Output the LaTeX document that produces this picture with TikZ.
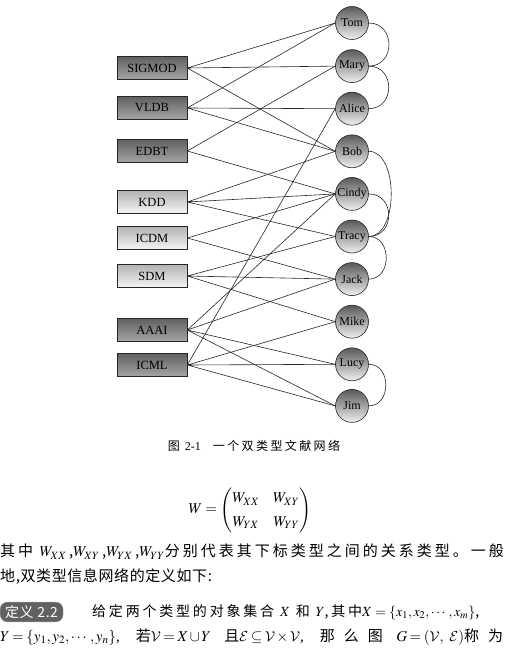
\documentclass[tikz,border=0pt]{standalone}
\usepackage{amsmath}
\usepackage{mathptmx}
\DeclareMathAlphabet{\mathcal}{OMS}{cmsy}{m}{n}
\usepackage{fontspec}
\setmainfont{Liberation Serif}
\newfontfamily\cjk[LetterSpace=4]{Noto Sans CJK SC}
\newfontfamily\cjkwide[LetterSpace=20]{Noto Sans CJK SC}
\newfontfamily\cjkwider[LetterSpace=60]{Noto Sans CJK SC}
\usetikzlibrary{positioning}

\begin{document}
\begin{tikzpicture}[
      x=1pt, y=-1pt,
      venue/.style={draw=black!85, line width=0.6pt, minimum width=70pt, minimum height=23pt,
                    inner sep=0pt, font=\fontsize{12.5}{12.5}\selectfont},
      dark/.style={venue, top color=black!62, bottom color=black!35},
      light/.style={venue, top color=black!30, bottom color=black!4},
      author/.style={circle, draw=black!85, line width=0.6pt, minimum size=33pt, inner sep=0pt,
                     top color=black!65, bottom color=black!6, font=\fontsize{12}{12}\selectfont},
      link/.style={line width=0.6pt, black!85},
      tie/.style={link, out=0, in=0},
      body/.style={anchor=west, inner sep=0pt, font=\fontsize{15}{18}\selectfont},
    ]
    \useasboundingbox (0,0) rectangle (507,658);
    % venues
    \node[dark] (sigmod) at (152,68) {SIGMOD};
    \node[dark] (vldb) at (152,108) {VLDB};
    \node[dark] (edbt) at (152,151) {EDBT};
    \node[light] (kdd) at (152,202) {KDD};
    \node[light] (icdm) at (152,238) {ICDM};
    \node[light] (sdm) at (152,276) {SDM};
    \node[dark] (aaai) at (152,330) {AAAI};
    \node[dark] (icml) at (152,365) {ICML};
    % authors
    \node[author] (tom) at (352,23) {Tom};
    \node[author, below=9.5pt of tom] (mary) {Mary};
    \node[author, below=9pt of mary] (alice) {Alice};
    \node[author, below=9pt of alice] (bob) {Bob};
    \node[author, below=9pt of bob] (cindy) {Cindy};
    \node[author, below=9pt of cindy] (tracy) {Tracy};
    \node[author, below=9pt of tracy] (jack) {Jack};
    \node[author, below=9pt of jack] (mike) {Mike};
    \node[author, below=9pt of mike] (lucy) {Lucy};
    \node[author, below=8pt of lucy] (jim) {Jim};
    % venue-author links
    \draw[link] (sigmod.east) -- (tom.west) (sigmod.east) -- (mary.west) (sigmod.east) -- (bob.west);
    \draw[link] (vldb.east) -- (tom.west) (vldb.east) -- (alice.west) (vldb.east) -- (bob.west);
    \draw[link] (edbt.east) -- (mary.west) (edbt.east) -- (cindy.west);
    \draw[link] (kdd.east) -- (bob.west) (kdd.east) -- (cindy.west) (kdd.east) -- (tracy.west);
    \draw[link] (icdm.east) -- (cindy.west) (icdm.east) -- (jack.west);
    \draw[link] (sdm.east) -- (tracy.west) (sdm.east) -- (jack.west) (sdm.east) -- (mike.west);
    \draw[link] (aaai.east) -- (cindy.west) (aaai.east) -- (jack.west)
                (aaai.east) -- (lucy.west) (aaai.east) -- (jim.west);
    \draw[link] (icml.east) -- (alice.west) (icml.east) -- (mike.west)
                (icml.east) -- (lucy.west) (icml.east) -- (jim.west);
    % author-author ties
    \draw[tie, looseness=1.6] (tom.east) to (mary.east);
    \draw[tie, looseness=1.6] (mary.east) to (alice.east);
    \draw[tie, looseness=0.9] (bob.east) to (tracy.east);
    \draw[tie, looseness=1.6] (cindy.east) to (tracy.east);
    \draw[tie, looseness=1.4] (tracy.east) to (jack.east);
    \draw[tie, looseness=1.4] (lucy.east) to (jim.east);
    % caption and text
    \node[inner sep=0pt, font=\fontsize{12}{12}\selectfont] (cap) at (254,446)
      {\cjkwide 图 {\rmfamily 2-1}\quad 一个双类型文献网络};
    \node[inner sep=0pt, font=\fontsize{15}{18}\selectfont] (eq) at (250,510)
      {\renewcommand{\arraystretch}{1.3}$W=\begin{pmatrix} W_{XX} & \ W_{XY}\\ W_{YX} & \ W_{YY}\end{pmatrix}$};
    \node[body] (l1) at (0,552)
      {\cjkwide 其中 $W_{XX}$\,,$W_{XY}$\,,$W_{YX}$\,,$W_{YY}$分别代表其下标类型之间的关系类型。一般};
    \node[body] (l2) at (0,577) {\cjk 地,双类型信息网络的定义如下:};
    \node[rounded corners=7pt, fill=black!62, draw=black!40, text=white, inner xsep=5pt,
          minimum height=19pt, anchor=west, font=\fontsize{14}{14}\selectfont] (def) at (0,612)
      {\cjk 定义 2.2};
    \node[body, font=\fontsize{14}{18}\selectfont] (l3) at (92,612)
      {\cjkwide 给定两个类型的对象集合 $X$ 和 $Y$,其中$X=\{x_1,x_2,\cdots,x_m\}$,};
    \node[body, font=\fontsize{15}{18}\selectfont] (l4) at (0,637)
      {\thickmuskip=3mu\medmuskip=2mu\makebox[503pt][s]{$Y=\{y_1,y_2,\cdots,y_n\}$, {\cjkwider 若}$\mathcal{V}=X\cup Y$ {\cjkwider 且}$\mathcal{E}\subseteq\mathcal{V}\times\mathcal{V}$, {\cjkwider 那么图} $G=(\mathcal{V},\kern4pt\mathcal{E})${\cjkwider 称为}}};
  \end{tikzpicture}
\end{document}
